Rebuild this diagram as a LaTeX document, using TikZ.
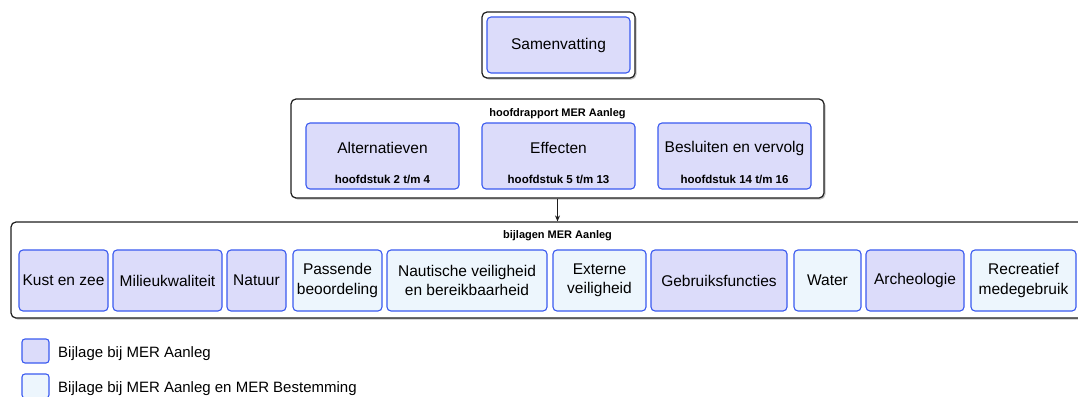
\documentclass[tikz,border=0pt]{standalone}
\usepackage{fontspec}
\setmainfont{Liberation Sans}
\usepackage{xcolor}
\usetikzlibrary{arrows.meta,positioning,shadows}
\definecolor{ink}{HTML}{1E1E1E}
\definecolor{edgeblue}{HTML}{3A5AF0}
\definecolor{lavbg}{HTML}{DCDCFA}
\definecolor{icebg}{HTML}{EDF6FD}
\definecolor{shade}{HTML}{9A9A9A}
\tikzset{
  frame/.style={draw=ink,fill=white,line width=1.2pt,rounded corners=5pt,inner sep=0pt,
                drop shadow={shadow xshift=1.5pt,shadow yshift=-1.5pt,fill=shade,opacity=0.6}},
  aanleg/.style={draw=edgeblue,fill=lavbg,line width=1.1pt,rounded corners=4pt,
                 minimum height=61pt,inner sep=0pt,align=center,
                 font=\fontsize{15.5}{19.5}\selectfont},
  beide/.style={aanleg,fill=icebg},
  grouptitle/.style={font=\bfseries\fontsize{11}{13}\selectfont},
  chapter/.style={font=\bfseries\fontsize{11.5}{13}\selectfont},
  keybox/.style={draw=edgeblue,line width=1.1pt,rounded corners=3pt,
                 minimum width=27pt,minimum height=24pt,inner sep=0pt},
  keytext/.style={anchor=west,inner sep=0pt,font=\fontsize{15}{18}\selectfont},
  flowarr/.style={-{Stealth[length=6pt,width=5pt]},line width=0.9pt,draw=ink}
}

\begin{document}
\begin{tikzpicture}[x=1pt,y=-1pt]
  \useasboundingbox (0,0) rectangle (1078,396);
  \clip (0,0) rectangle (1078,396);
  % samenvatting
  \node[frame,minimum width=153,minimum height=66] (samframe) at (558.5,45) {};
  \node[aanleg,minimum width=143,minimum height=56] (sam) at (samframe.center) {Samenvatting};
  % hoofdrapport
  \node[frame,minimum width=533,minimum height=99] (hoofd) at (557.5,148.5) {};
  \node[grouptitle] (hoofdtitle) at (557.5,114) {hoofdrapport MER Aanleg};
  \node[aanleg,minimum width=153,minimum height=66] (alt) at (382.5,156) {};
  \node[aanleg,minimum width=153,minimum height=66] (eff) at (558.5,156) {};
  \node[aanleg,minimum width=153,minimum height=66] (besl) at (734.5,156) {};
  \node[font=\fontsize{15.5}{19.5}\selectfont] (alttext) at (382.5,148) {Alternatieven};
  \node[font=\fontsize{15.5}{19.5}\selectfont] (efftext) at (558.5,148) {Effecten};
  \node[font=\fontsize{15.5}{19.5}\selectfont] (besltext) at (734.5,148) {Besluiten en vervolg};
  \node[chapter] (altchap) at (382.5,179.5) {hoofdstuk 2 t/m 4};
  \node[chapter] (effchap) at (558.5,179.5) {hoofdstuk 5 t/m 13};
  \node[chapter] (beslchap) at (734.5,179.5) {hoofdstuk 14 t/m 16};
  % bijlagen
  \node[frame,minimum width=1093,minimum height=96] (bijl) at (557.5,270) {};
  \node[grouptitle] (bijltitle) at (557.5,236) {bijlagen MER Aanleg};
  \node[aanleg,minimum width=89] (kust) at (63.5,280.5) {Kust en zee};
  \node[aanleg,minimum width=109] (milieu) at (167.5,280.5) {Milieukwaliteit};
  \node[aanleg,minimum width=59] (natuur) at (256.5,280.5) {Natuur};
  \node[beide,minimum width=89] (passende) at (337.5,280.5) {Passende\\beoordeling};
  \node[beide,minimum width=160] (nautisch) at (467,280.5) {Nautische veiligheid\\en bereikbaarheid};
  \node[beide,minimum width=93] (extern) at (599.5,280.5) {Externe\\veiligheid};
  \node[aanleg,minimum width=136] (gebruik) at (719,280.5) {Gebruiksfuncties};
  \node[beide,minimum width=67] (water) at (827.5,280.5) {Water};
  \node[aanleg,minimum width=98] (archeo) at (915,280.5) {Archeologie};
  \node[beide,minimum width=105] (recreatie) at (1023.5,280.5) {Recreatief\\medegebruik};
  \draw[flowarr] (hoofd.south) -- (bijl.north);
  % legenda
  \node[keybox,fill=lavbg] (keyaanleg) at (35.5,351) {};
  \node[keybox,fill=icebg] (keybeide) at (35.5,386) {};
  \node[keytext] (keyaanlegtext) at (58,353.4) {Bijlage bij MER Aanleg};
  \node[keytext] (keybeidetext) at (58,388.4) {Bijlage bij MER Aanleg en MER Bestemming};
\end{tikzpicture}
\end{document}
